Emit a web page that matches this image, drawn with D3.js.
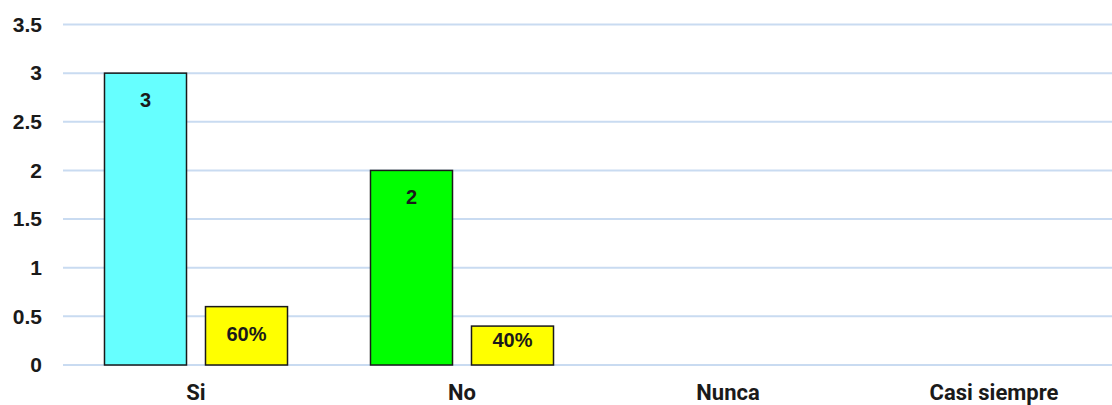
<!DOCTYPE html>
<html>
<head>
<meta charset="utf-8">
<script src="https://cdn.jsdelivr.net/npm/d3@7"></script>
<style>
  html, body { margin: 0; padding: 0; background: #fff; }
  svg { display: block; }
</style>
</head>
<body>
<svg id="chart" width="1112" height="405"></svg>
<script>
// Survey answers and their counts / shares
const categories = ["Si", "No", "Nunca", "Casi siempre"];
const counts = [3, 2, 0, 0];
const shares = [0.6, 0.4, 0, 0];
const shareLabels = ["60%", "40%", "", ""];
const countColors = ["#66ffff", "#00ff00", "#66ffff", "#00ff00"];
const shareColor = "#ffff00";
const yTicks = [0, 0.5, 1, 1.5, 2, 2.5, 3, 3.5];

const svg = d3.select("#chart");
const plotLeft = 63, plotRight = 1127, plotTop = 24.5, plotBottom = 365;

const y = d3.scaleLinear().domain([0, 3.5]).range([plotBottom, plotTop]);
const x0 = d3.scaleBand().domain(categories).range([plotLeft, plotRight])
  .paddingInner(0.312).paddingOuter(0.156);
const x1 = d3.scaleBand().domain(["count", "share"]).range([0, x0.bandwidth()])
  .paddingInner(0.188).paddingOuter(0);

// horizontal gridlines
svg.append("g").selectAll("line").data(yTicks).join("line")
  .attr("x1", plotLeft).attr("x2", 1112)
  .attr("y1", d => y(d)).attr("y2", d => y(d))
  .attr("stroke", "#c9dbf1").attr("stroke-width", 2);

// y axis tick labels
const yAxis = d3.axisLeft(y).tickValues(yTicks).tickSize(0).tickPadding(0)
  .tickFormat(d => String(d));
svg.append("g").attr("transform", "translate(42,0)").call(yAxis)
  .call(g => g.select(".domain").remove())
  .selectAll("text")
  .attr("font-family", "'Liberation Sans', Arial, sans-serif")
  .attr("font-weight", "bold").attr("font-size", 21).attr("fill", "#1a1a1a");

// x axis category labels
const xAxis = d3.axisBottom(x0).tickSize(0).tickPadding(0);
svg.append("g").attr("transform", "translate(0,384)").call(xAxis)
  .call(g => g.select(".domain").remove())
  .selectAll("text")
  .attr("font-family", "Roboto, 'Liberation Sans', sans-serif")
  .attr("font-weight", "bold").attr("font-size", 22).attr("fill", "#1a1a1a");

const rows = categories.map((c, i) => ({
  cat: c, count: counts[i], share: shares[i], shareLabel: shareLabels[i], color: countColors[i]
}));

const groups = svg.append("g").selectAll("g").data(rows).join("g")
  .attr("transform", d => `translate(${x0(d.cat)},0)`);

// value labels sit near the bar top, but stay inside short bars
function labelY(v) {
  return Math.min(y(v) + 27, plotBottom - 25);
}

// count bars
groups.filter(d => d.count > 0).append("rect")
  .attr("x", x1("count")).attr("width", x1.bandwidth())
  .attr("y", d => y(d.count)).attr("height", d => plotBottom - y(d.count))
  .attr("fill", d => d.color).attr("stroke", "#1a1a1a").attr("stroke-width", 1.5);

// share bars
groups.filter(d => d.share > 0).append("rect")
  .attr("x", x1("share")).attr("width", x1.bandwidth())
  .attr("y", d => y(d.share)).attr("height", d => plotBottom - y(d.share))
  .attr("fill", shareColor).attr("stroke", "#1a1a1a").attr("stroke-width", 1.5);

const labelFont = "'Liberation Sans', Arial, sans-serif";
groups.filter(d => d.count > 0).append("text")
  .attr("x", x1("count") + x1.bandwidth() / 2).attr("y", d => labelY(d.count))
  .attr("dy", "0.35em").attr("text-anchor", "middle")
  .attr("font-family", labelFont).attr("font-weight", "bold").attr("font-size", 20)
  .attr("fill", "#1a1a1a").text(d => d.count);

groups.filter(d => d.share > 0).append("text")
  .attr("x", x1("share") + x1.bandwidth() / 2).attr("y", d => labelY(d.share))
  .attr("dy", "0.35em").attr("text-anchor", "middle")
  .attr("font-family", labelFont).attr("font-weight", "bold").attr("font-size", 20)
  .attr("fill", "#1a1a1a").text(d => d.shareLabel);
</script>
</body>
</html>
